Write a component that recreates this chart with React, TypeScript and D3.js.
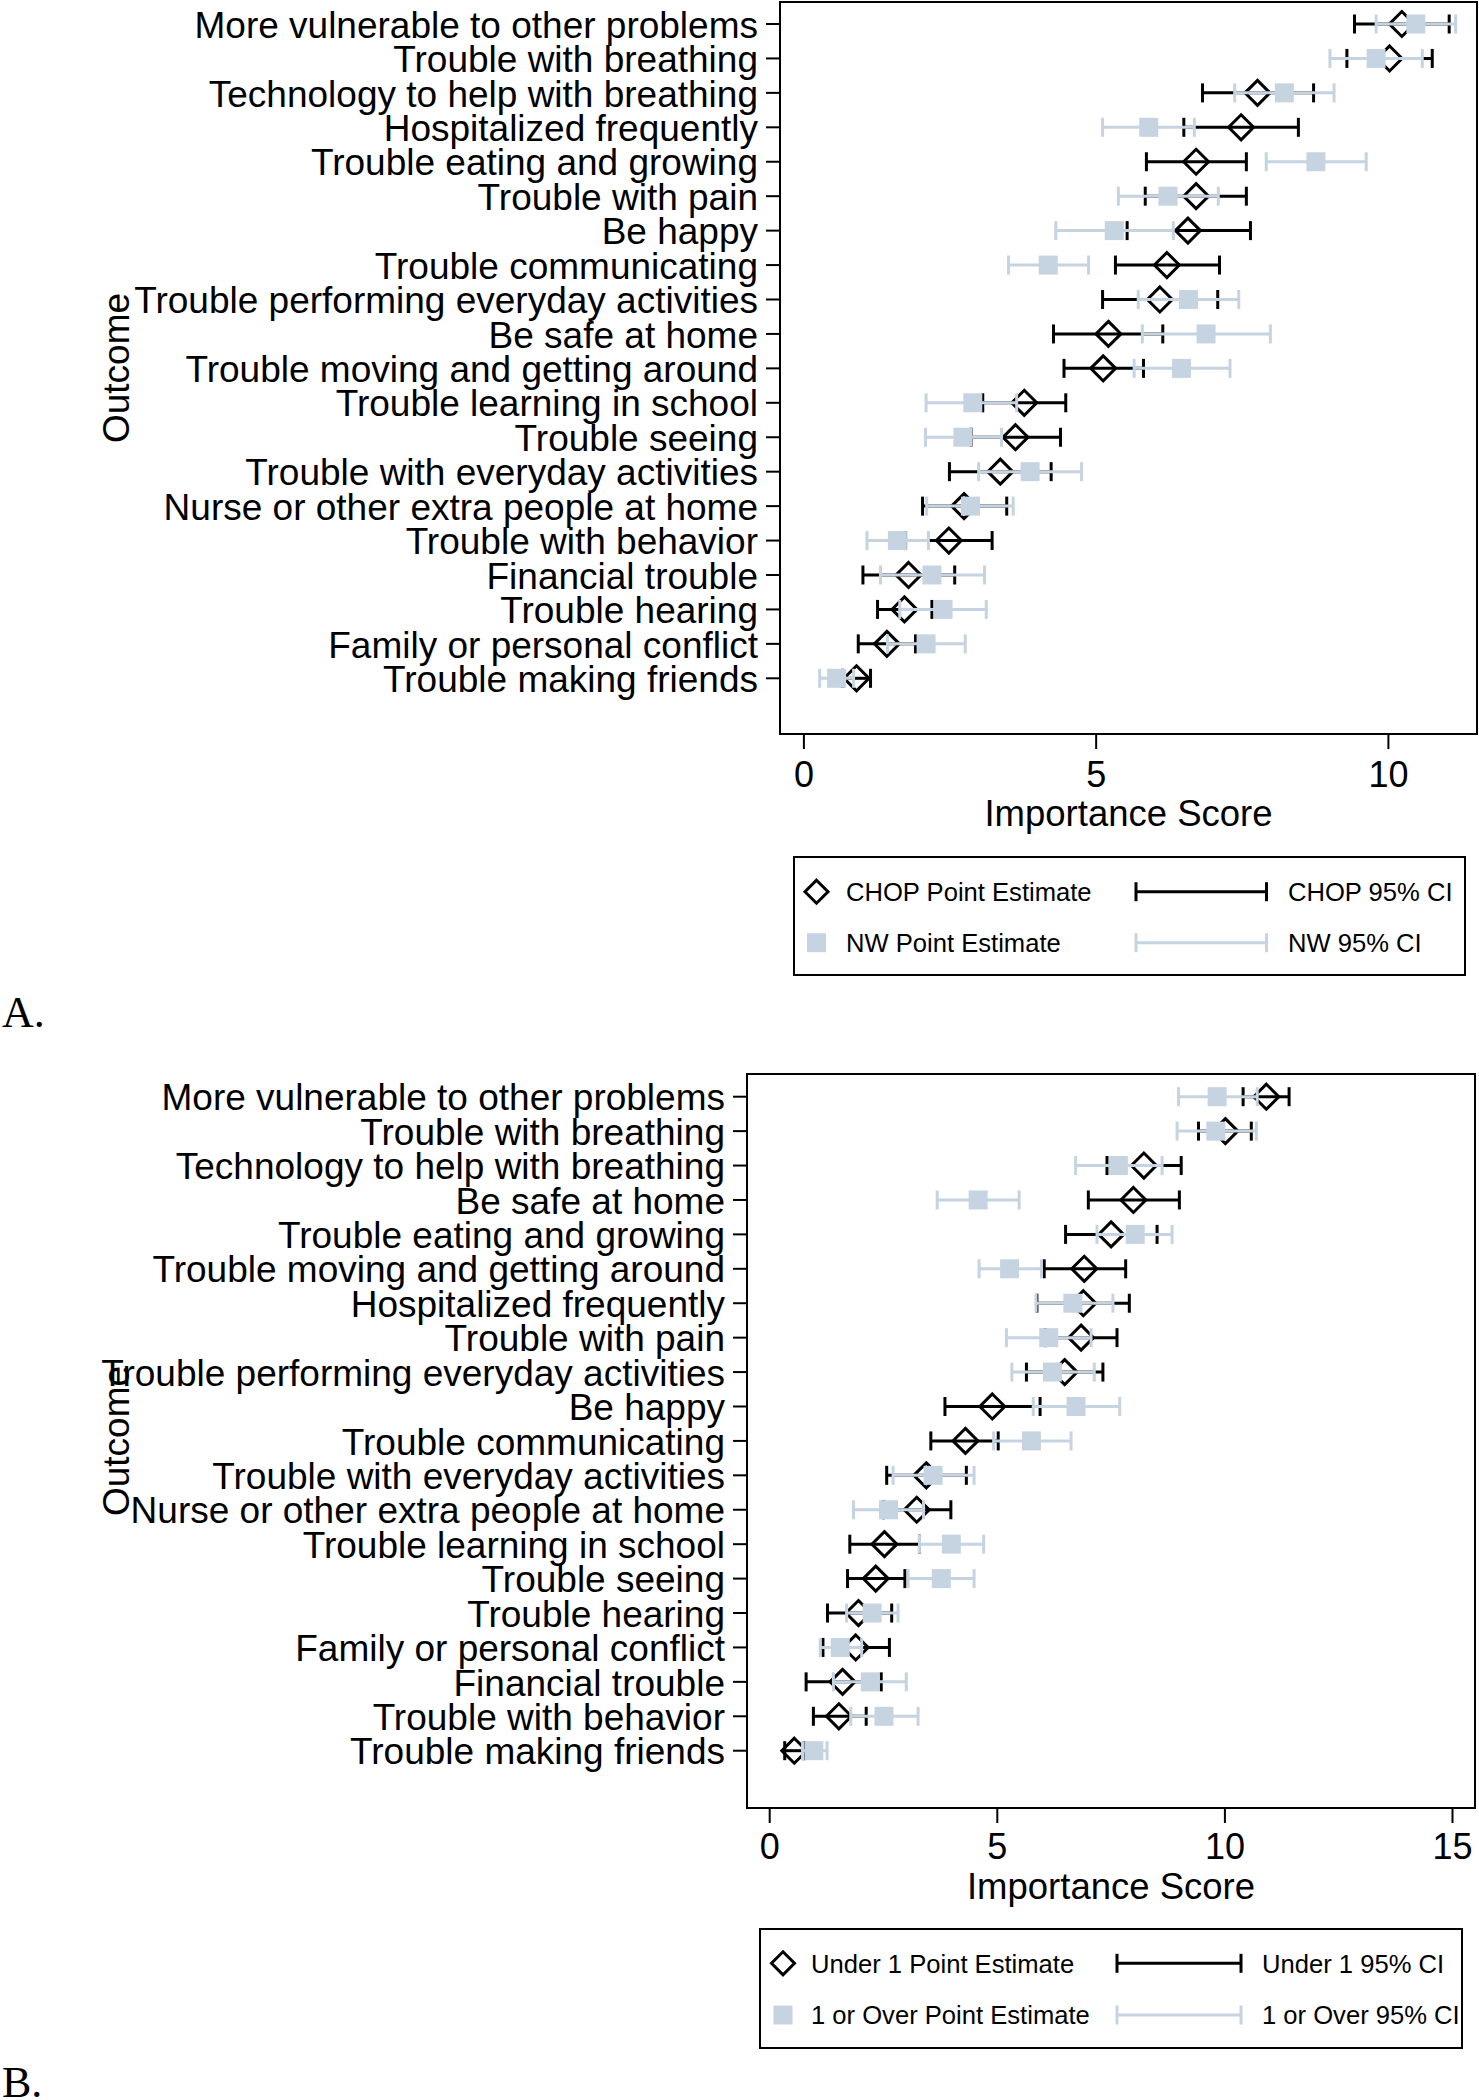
import React from 'react';
import * as d3 from 'd3';

// ---------- Panel A data ----------
const outcomesA = [
  'More vulnerable to other problems',
  'Trouble with breathing',
  'Technology to help with breathing',
  'Hospitalized frequently',
  'Trouble eating and growing',
  'Trouble with pain',
  'Be happy',
  'Trouble communicating',
  'Trouble performing everyday activities',
  'Be safe at home',
  'Trouble moving and getting around',
  'Trouble learning in school',
  'Trouble seeing',
  'Trouble with everyday activities',
  'Nurse or other extra people at home',
  'Trouble with behavior',
  'Financial trouble',
  'Trouble hearing',
  'Family or personal conflict',
  'Trouble making friends',
];
const chopEst = [10.23, 10.02, 7.76, 7.48, 6.71, 6.71, 6.57, 6.21, 6.09, 5.21, 5.12, 3.77, 3.62, 3.36, 2.74, 2.48, 1.79, 1.72, 1.42, 0.9];
const chopLo = [9.42, 9.29, 6.82, 6.5, 5.86, 5.84, 5.53, 5.33, 5.11, 4.27, 4.45, 3.06, 2.86, 2.49, 2.03, 1.74, 1.01, 1.26, 0.93, 0.66];
const chopHi = [11.04, 10.75, 8.72, 8.46, 7.57, 7.57, 7.64, 7.11, 7.08, 6.14, 5.81, 4.48, 4.39, 4.23, 3.47, 3.22, 2.58, 2.19, 1.91, 1.14];
const nwEst = [10.47, 9.79, 8.22, 5.9, 8.76, 6.23, 5.31, 4.18, 6.58, 6.88, 6.46, 2.89, 2.72, 3.87, 2.85, 1.6, 2.19, 2.38, 2.09, 0.56];
const nwLo = [9.79, 9.0, 7.37, 5.11, 7.91, 5.38, 4.31, 3.5, 5.72, 5.79, 5.65, 2.09, 2.08, 2.99, 2.1, 1.08, 1.31, 1.64, 1.43, 0.27];
const nwHi = [11.15, 10.58, 9.07, 6.68, 9.62, 7.09, 6.32, 4.87, 7.44, 7.98, 7.29, 3.64, 3.38, 4.75, 3.58, 2.13, 3.09, 3.12, 2.76, 0.85];
const ticksA = [0, 5, 10];
const legendA = ['CHOP Point Estimate', 'NW Point Estimate', 'CHOP 95% CI', 'NW 95% CI'];

// ---------- Panel B data ----------
const outcomesB = [
  'More vulnerable to other problems',
  'Trouble with breathing',
  'Technology to help with breathing',
  'Be safe at home',
  'Trouble eating and growing',
  'Trouble moving and getting around',
  'Hospitalized frequently',
  'Trouble with pain',
  'Trouble performing everyday activities',
  'Be happy',
  'Trouble communicating',
  'Trouble with everyday activities',
  'Nurse or other extra people at home',
  'Trouble learning in school',
  'Trouble seeing',
  'Trouble hearing',
  'Family or personal conflict',
  'Financial trouble',
  'Trouble with behavior',
  'Trouble making friends',
];
const under1Est = [10.91, 10.01, 8.22, 7.99, 7.5, 6.91, 6.89, 6.84, 6.48, 4.89, 4.3, 3.44, 3.23, 2.52, 2.33, 1.95, 1.89, 1.6, 1.52, 0.54];
const under1Lo = [10.4, 9.42, 7.41, 7.0, 6.5, 6.03, 5.87, 6.05, 5.64, 3.85, 3.54, 2.57, 2.5, 1.76, 1.71, 1.27, 1.17, 0.8, 0.96, 0.33];
const under1Hi = [11.41, 10.58, 9.04, 9.0, 8.51, 7.82, 7.9, 7.63, 7.32, 5.94, 5.02, 4.32, 3.98, 3.29, 2.97, 2.68, 2.63, 2.45, 2.12, 0.75];
const overEst = [9.83, 9.8, 7.66, 4.58, 8.03, 5.27, 6.66, 6.13, 6.21, 6.73, 5.75, 3.59, 2.61, 3.99, 3.77, 2.25, 1.55, 2.21, 2.51, 0.97];
const overLo = [8.98, 8.95, 6.72, 3.68, 7.19, 4.6, 5.85, 5.2, 5.32, 5.79, 4.92, 2.71, 1.84, 3.29, 3.04, 1.69, 1.11, 1.4, 1.78, 0.72];
const overHi = [10.71, 10.69, 8.62, 5.48, 8.84, 5.97, 7.54, 7.06, 7.13, 7.69, 6.62, 4.49, 3.38, 4.7, 4.49, 2.82, 2.02, 3.0, 3.26, 1.26];
const ticksB = [0, 5, 10, 15];
const legendB = ['Under 1 Point Estimate', '1 or Over Point Estimate', 'Under 1 95% CI', '1 or Over 95% CI'];

const FONT = '"Liberation Sans", Arial, Helvetica, sans-serif';
const SERIF = '"Liberation Serif", "Times New Roman", serif';
const DARK = '#000000';
const LIGHT = 'rgb(198,211,224)';

const DIAMOND_R = 12.5;
const SQUARE = 19;
const CAP = 9.5;
const LW = 3;

function diamondPath(cx: number, cy: number, r: number) {
  return `M${cx},${cy - r}L${cx + r},${cy}L${cx},${cy + r}L${cx - r},${cy}Z`;
}

function CI({ x0, x1, y, color }: { x0: number; x1: number; y: number; color: string }) {
  return (
    <g stroke={color} strokeWidth={LW} fill="none">
      <line x1={x0} x2={x1} y1={y} y2={y} />
      <line x1={x0} x2={x0} y1={y - CAP} y2={y + CAP} />
      <line x1={x1} x2={x1} y1={y - CAP} y2={y + CAP} />
    </g>
  );
}

type PanelProps = {
  labels: string[];
  est1: number[]; lo1: number[]; hi1: number[];
  est2: number[]; lo2: number[]; hi2: number[];
  ticks: number[];
  xRange: [number, number];
  boxX: [number, number];
  boxY: [number, number];
  rowY: [number, number];
  tickLabelBase: number;
  titleBase: number;
  legend: string[];
  legBox: [number, number, number, number];
  legRows: [number, number];
  legMarkX: number; legTextX: number; legLine: [number, number]; legText2X: number;
  panelLabel: string; panelLabelBase: number;
};

function Panel(p: PanelProps) {
  const tmax = p.ticks[p.ticks.length - 1];
  const x = d3.scaleLinear().domain([0, tmax]).range(p.xRange);
  const y = d3.scalePoint<string>().domain(p.labels).range(p.rowY);
  const [bx0, bx1] = p.boxX;
  const [by0, by1] = p.boxY;
  const sq = d3.symbol().type(d3.symbolSquare).size(SQUARE * SQUARE);
  const [lx0, ly0, lx1, ly1] = p.legBox;
  return (
    <g>
      <rect x={bx0} y={by0} width={bx1 - bx0} height={by1 - by0} fill="white" stroke="black" strokeWidth={2} />
      {p.labels.map((l) => (
        <g key={'y' + l}>
          <line x1={bx0 - 14} x2={bx0} y1={y(l)} y2={y(l)} stroke="black" strokeWidth={2} />
          <text x={bx0 - 22} y={y(l)} dy="0.37em" textAnchor="end" fontFamily={FONT} fontSize={37} fill="black">{l}</text>
        </g>
      ))}
      {p.ticks.map((t) => (
        <g key={'x' + t}>
          <line x1={x(t)} x2={x(t)} y1={by1} y2={by1 + 15} stroke="black" strokeWidth={2} />
          <text x={x(t)} y={p.tickLabelBase} textAnchor="middle" fontFamily={FONT} fontSize={36} fill="black">{t}</text>
        </g>
      ))}
      <text x={(bx0 + bx1) / 2} y={p.titleBase} textAnchor="middle" fontFamily={FONT} fontSize={36.5} fill="black">Importance Score</text>
      <text transform={`translate(129,${(by0 + by1) / 2}) rotate(-90)`} textAnchor="middle" fontFamily={FONT} fontSize={37} fill="black">Outcome</text>
      {p.labels.map((l, i) => {
        const yy = y(l) as number;
        return (
          <g key={'m' + l}>
            <path d={diamondPath(x(p.est1[i]), yy, DIAMOND_R)} fill="none" stroke={DARK} strokeWidth={3} />
            <CI x0={x(p.lo1[i])} x1={x(p.hi1[i])} y={yy} color={DARK} />
            <path d={sq() as string} transform={`translate(${x(p.est2[i])},${yy})`} fill={LIGHT} />
            <CI x0={x(p.lo2[i])} x1={x(p.hi2[i])} y={yy} color={LIGHT} />
          </g>
        );
      })}
      <rect x={lx0} y={ly0} width={lx1 - lx0} height={ly1 - ly0} fill="white" stroke="black" strokeWidth={2} />
      <path d={diamondPath(p.legMarkX, p.legRows[0], DIAMOND_R - 1)} fill="none" stroke={DARK} strokeWidth={3} />
      <text x={p.legTextX} y={p.legRows[0]} dy="0.36em" fontFamily={FONT} fontSize={25.6} fill="black">{p.legend[0]}</text>
      <CI x0={p.legLine[0]} x1={p.legLine[1]} y={p.legRows[0]} color={DARK} />
      <text x={p.legText2X} y={p.legRows[0]} dy="0.36em" fontFamily={FONT} fontSize={25.6} fill="black">{p.legend[2]}</text>
      <path d={sq() as string} transform={`translate(${p.legMarkX},${p.legRows[1]})`} fill={LIGHT} />
      <text x={p.legTextX} y={p.legRows[1]} dy="0.36em" fontFamily={FONT} fontSize={25.6} fill="black">{p.legend[1]}</text>
      <CI x0={p.legLine[0]} x1={p.legLine[1]} y={p.legRows[1]} color={LIGHT} />
      <text x={p.legText2X} y={p.legRows[1]} dy="0.36em" fontFamily={FONT} fontSize={25.6} fill="black">{p.legend[3]}</text>
      <text x={2} y={p.panelLabelBase} fontFamily={SERIF} fontSize={44} fill="black">{p.panelLabel}</text>
    </g>
  );
}

export default function App() {
  return (
    <div style={{ position: 'absolute', left: 0, top: 0 }}>
      <svg width={1479} height={2100} viewBox="0 0 1479 2100" style={{ display: 'block', background: 'white' }}>
        <rect x={0} y={0} width={1479} height={2100} fill="white" />
        <Panel
          labels={outcomesA}
          est1={chopEst} lo1={chopLo} hi1={chopHi}
          est2={nwEst} lo2={nwLo} hi2={nwHi}
          ticks={ticksA}
          xRange={[803.9, 1388.4]}
          boxX={[780, 1477]}
          boxY={[2, 734]}
          rowY={[24, 678.3]}
          tickLabelBase={786.5}
          titleBase={826}
          legend={legendA}
          legBox={[794, 857, 1465, 975]}
          legRows={[891.7, 942.7]}
          legMarkX={816.5} legTextX={846} legLine={[1136, 1266.5]} legText2X={1288}
          panelLabel="A." panelLabelBase={1027}
        />
        <Panel
          labels={outcomesB}
          est1={under1Est} lo1={under1Lo} hi1={under1Hi}
          est2={overEst} lo2={overLo} hi2={overHi}
          ticks={ticksB}
          xRange={[769.7, 1452.5]}
          boxX={[747, 1475]}
          boxY={[1074, 1808]}
          rowY={[1096.7, 1750.7]}
          tickLabelBase={1859}
          titleBase={1899}
          legend={legendB}
          legBox={[760, 1929, 1462, 2048]}
          legRows={[1963.3, 2015]}
          legMarkX={783} legTextX={811} legLine={[1117, 1241]} legText2X={1262}
          panelLabel="B." panelLabelBase={2097}
        />
      </svg>
    </div>
  );
}
